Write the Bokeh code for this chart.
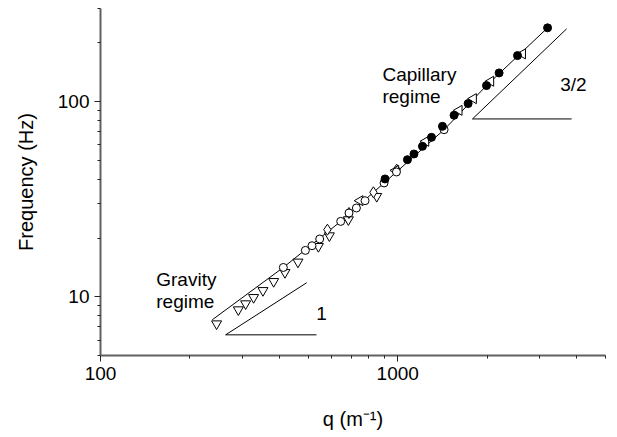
import math
from bokeh.plotting import figure
from bokeh.models import FixedTicker, PrintfTickFormatter, Label, Range1d
from bokeh.embed import file_html
from bokeh.resources import INLINE

# ---- data (q in 1/m, frequency in Hz) ----
tri_down_q = [245.8, 290.9, 307.8, 327.4, 352.0, 382.4, 417.4, 461.6, 540.8, 588.8, 682.3, 849.7]
tri_down_f = [7.27, 8.58, 9.21, 9.92, 10.77, 11.98, 13.32, 15.07, 18.11, 20.55, 24.83, 32.7]

open_circ_q = [412.2, 488.9, 514.7, 546.4, 642.8, 685.5, 726.1, 776.2, 899.4, 990.0, 1432.0]
open_circ_f = [14.13, 17.28, 18.26, 19.77, 24.33, 26.87, 28.5, 31.07, 38.3, 43.6, 71.8]

filled_q = [906.3, 1078, 1134, 1211, 1299, 1414, 1547, 1725, 1989, 2193, 2529, 3192]
filled_f = [40.15, 50.4, 53.9, 59.0, 65.6, 74.7, 85.1, 97.7, 120.8, 140.3, 172.1, 238.8]

tri_left_q = [746.5, 984.7, 1243, 1609, 1798, 2056, 2630]
tri_left_f = [31.07, 44.4, 62.6, 90.2, 103.6, 127.1, 175.6]

diamond_q = [579.9, 685.5, 828.4, 992.0]
diamond_f = [22.06, 26.87, 34.3, 44.8]

fit_q = [237.7, 412.2, 642.8, 899.4, 1432, 1989, 3192]
fit_f = [7.62, 14.13, 24.33, 38.3, 71.8, 120.8, 238.8]

slope1_q = [494, 263.6, 533]
slope1_f = [11.8, 6.38, 6.38]
slope32_q = [3700, 1784, 3846]
slope32_f = [236, 81.5, 81.5]

x_major = [100, 1000]
x_minor = [200, 300, 400, 500, 600, 700, 800, 900, 2000, 3000, 4000, 5000]
y_major = [10, 100]
y_minor = [5, 6, 7, 8, 9, 20, 30, 40, 50, 60, 70, 80, 90, 200, 300]

FONT = "Liberation Sans"

p = figure(width=610, height=437, x_axis_type="log", y_axis_type="log",
           x_range=Range1d(100, 5000), y_range=Range1d(5, 300),
           output_backend="svg", toolbar_location=None,
           min_border_left=100, min_border_right=5, min_border_top=8, min_border_bottom=82)
p.outline_line_color = None
p.xgrid.visible = False
p.ygrid.visible = False
p.background_fill_color = "white"
p.border_fill_color = "white"

p.xaxis.ticker = FixedTicker(ticks=x_major, minor_ticks=x_minor)
p.yaxis.ticker = FixedTicker(ticks=y_major, minor_ticks=y_minor)
for ax in (p.xaxis, p.yaxis):
    ax.formatter = PrintfTickFormatter(format="%d")
    ax.axis_line_color = "#606060"
    ax.axis_line_width = 2
    ax.major_tick_line_color = "#222222"
    ax.minor_tick_line_color = "#222222"
    ax.major_tick_line_width = 1
    ax.minor_tick_line_width = 1
    ax.major_tick_out = 6
    ax.major_tick_in = 0
    ax.minor_tick_out = 3
    ax.minor_tick_in = 0
    ax.major_label_text_font = FONT
    ax.major_label_text_font_size = "19px"
    ax.major_label_text_color = "black"
    ax.major_label_standoff = 5
    ax.axis_label_text_font = FONT
    ax.axis_label_text_font_size = "20px"
    ax.axis_label_text_font_style = "normal"
    ax.axis_label_text_color = "black"

p.yaxis.axis_label = "Frequency (Hz)"
p.yaxis.axis_label_standoff = 18
p.xaxis.axis_label = "q (m\u207b\u00b9)"
p.xaxis.axis_label_standoff = 25

# fit curve and slope guides
p.line(fit_q, fit_f, line_color="black", line_width=1)
p.line(slope1_q, slope1_f, line_color="black", line_width=1)
p.line(slope32_q, slope32_f, line_color="black", line_width=1)

# data series
p.scatter(tri_down_q, tri_down_f, marker="inverted_triangle", size=10,
          fill_color="white", line_color="black", line_width=1)
p.scatter(diamond_q, diamond_f, marker="diamond", size=11,
          fill_color="white", line_color="black", line_width=1)
p.scatter(tri_left_q, tri_left_f, marker="triangle", angle=math.pi / 2, size=10,
          fill_color="white", line_color="black", line_width=1)
p.scatter(open_circ_q, open_circ_f, marker="circle", size=8,
          fill_color="white", line_color="black", line_width=1)
p.scatter(filled_q, filled_f, marker="circle", size=8,
          fill_color="black", line_color="black", line_width=1)

def txt(x, y, s, size="19px"):
    p.add_layout(Label(x=x, y=y, text=s,
                       text_font=FONT, text_font_size=size, text_color="black",
                       text_baseline="alphabetic", text_align="left"))

txt(888.5, 137.6, "Capillary")
txt(888.5, 106.1, "regime")
txt(154, 12.33, "Gravity")
txt(154, 9.46, "regime")
txt(532.4, 8.25, "1")
txt(3520, 122.3, "3/2")

open("out.html", "w").write(file_html(p, INLINE))
